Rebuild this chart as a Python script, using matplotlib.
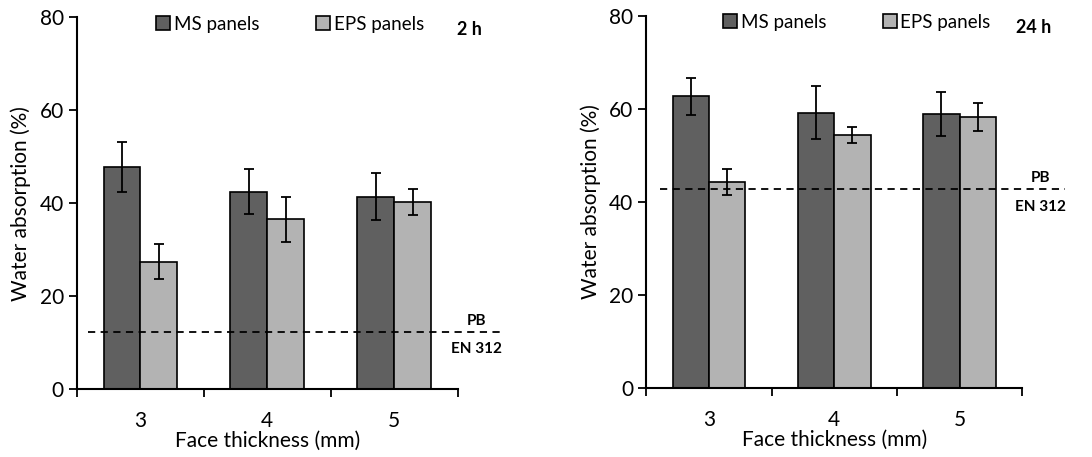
import matplotlib.pyplot as plt
import numpy as np

plt.rcParams['font.family'] = ['Lato', 'DejaVu Sans']

thickness = ['3', '4', '5']
series = ['MS panels', 'EPS panels']

# 2 h
ms_2h = [47.8, 42.5, 41.4]
ms_2h_err = [5.3, 4.85, 5.1]
eps_2h = [27.4, 36.5, 40.3]
eps_2h_err = [3.75, 4.9, 2.85]
pb_2h = 12.3

# 24 h
ms_24h = [62.6, 59.1, 58.9]
ms_24h_err = [4.0, 5.7, 4.7]
eps_24h = [44.2, 54.3, 58.1]
eps_24h_err = [2.9, 1.75, 3.0]
pb_24h = 42.6

colors = ['#606060', '#b3b3b3']


def panel(ax, ms, ms_err, eps, eps_err, pb, tag, line_x):
    x = np.arange(1, len(thickness) + 1)
    w = 0.29
    ax.bar(x - w / 2, ms, w, color=colors[0], edgecolor='black', linewidth=1.2,
           yerr=ms_err, capsize=3.5, error_kw=dict(elinewidth=1.3, capthick=1.3),
           label=series[0], zorder=2)
    ax.bar(x + w / 2, eps, w, color=colors[1], edgecolor='black', linewidth=1.2,
           yerr=eps_err, capsize=3.5, error_kw=dict(elinewidth=1.3, capthick=1.3),
           label=series[1], zorder=2)
    ax.plot(line_x, [pb, pb], 'k--', linewidth=1.3, dashes=(4, 3), clip_on=False, zorder=3)

    ax.set_xlim(0.5, 3.5)
    ax.set_ylim(0, 80)
    ax.set_yticks([0, 20, 40, 60, 80])
    ax.set_xticks([0.5, 1.5, 2.5, 3.5])
    ax.set_xticklabels([])
    ax.set_xticks(x, minor=True)
    ax.set_xticklabels(thickness, minor=True)
    ax.tick_params(axis='x', which='minor', length=0, pad=16)
    ax.tick_params(axis='both', which='major', length=6, width=1.3, direction='out')
    ax.tick_params(labelsize=15, which='both')
    for s in ['top', 'right']:
        ax.spines[s].set_visible(False)
    for s in ['left', 'bottom']:
        ax.spines[s].set_linewidth(1.5)

    ax.set_xlabel('Face thickness (mm)', fontsize=15, labelpad=0)
    ax.set_ylabel('Water absorption (%)', fontsize=15, labelpad=6)

    ax.text(1.03, 0.968, tag, transform=ax.transAxes, ha='center', va='center',
            fontsize=13, fontweight='bold')
    ax.text(3.65, pb + 2.4, 'PB', ha='center', va='center', fontsize=11, fontweight='bold')
    ax.text(3.65, pb - 3.8, 'EN 312', ha='center', va='center', fontsize=11, fontweight='bold')

    ax.legend(loc='upper center', bbox_to_anchor=(0.56, 1.025), ncol=2, frameon=False,
              fontsize=13.5, handlelength=0.75, handleheight=0.75, handletextpad=0.2,
              columnspacing=3.0, borderaxespad=0)


fig = plt.figure(figsize=(10.92, 4.57), dpi=100)
ax1 = fig.add_axes([0.0705, 0.149, 0.3485, 0.813])
ax2 = fig.add_axes([0.592, 0.152, 0.344, 0.814])

panel(ax1, ms_2h, ms_2h_err, eps_2h, eps_2h_err, pb_2h, '2 h', [0.584, 3.846])
panel(ax2, ms_24h, ms_24h_err, eps_24h, eps_24h_err, pb_24h, '24 h', [0.61, 3.84])

fig.savefig('out.png', dpi=100)
